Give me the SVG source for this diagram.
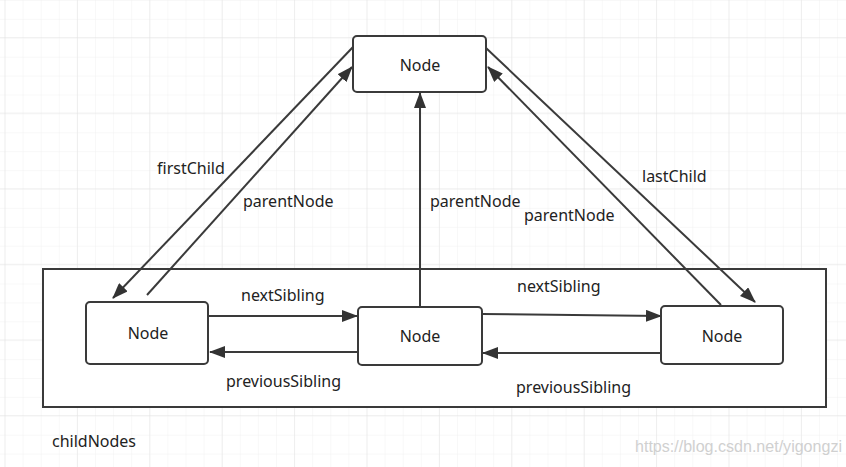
<svg xmlns="http://www.w3.org/2000/svg" width="846" height="467" viewBox="0 0 846 467">
<style>
.node rect{fill:#fff;stroke:#3a3a3a;stroke-width:2}
.t{font-family:"Noto Sans","Open Sans",sans-serif;font-size:16px;fill:#222}
.c{text-anchor:middle}
.e line{stroke:#3a3a3a;stroke-width:2;fill:none}
</style>
<defs>
<pattern id="gmin" width="18.1" height="18.9" patternUnits="userSpaceOnUse" x="4.5" y="0">
<path d="M0 0V18.9M0 0H18.1" fill="none" stroke="#f1f1f1" stroke-width="1"/>
</pattern>
<pattern id="gmaj" width="72.4" height="75.6" patternUnits="userSpaceOnUse" x="4.5" y="37">
<path d="M0 0V75.6M0 0H72.4" fill="none" stroke="#e3e3e3" stroke-width="1"/>
</pattern>
<marker id="ah" markerWidth="16" markerHeight="12" refX="15" refY="6" orient="auto" markerUnits="userSpaceOnUse">
<path d="M0 0L16 6L0 12Z" fill="#333"/>
</marker>
</defs>
<rect width="846" height="467" fill="#fff"/>
<rect width="846" height="467" fill="url(#gmin)"/>
<rect width="846" height="467" fill="url(#gmaj)"/>
<g id="container">
<rect x="43" y="269" width="783" height="138" fill="#fff" stroke="#3a3a3a" stroke-width="2"/>
<text class="t" x="52" y="447">childNodes</text>
</g>
<g id="edges" class="e">
<line x1="353" y1="47" x2="113" y2="298" marker-end="url(#ah)"/>
<line x1="147" y1="295" x2="352" y2="67" marker-end="url(#ah)"/>
<line x1="420" y1="307" x2="420" y2="93" marker-end="url(#ah)"/>
<line x1="486" y1="48" x2="755" y2="302" marker-end="url(#ah)"/>
<line x1="721" y1="305" x2="488" y2="67" marker-end="url(#ah)"/>
<line x1="208" y1="316" x2="357" y2="316" marker-end="url(#ah)"/>
<line x1="358" y1="352" x2="210" y2="352" marker-end="url(#ah)"/>
<line x1="482" y1="314" x2="661" y2="316" marker-end="url(#ah)"/>
<line x1="661" y1="353" x2="483" y2="353" marker-end="url(#ah)"/>
</g>
<g id="labels">
<text class="t" x="157" y="174">firstChild</text>
<text class="t" x="243" y="207">parentNode</text>
<text class="t" x="430" y="207">parentNode</text>
<text class="t" x="642" y="182">lastChild</text>
<text class="t" x="524" y="221">parentNode</text>
<text class="t" x="241" y="301">nextSibling</text>
<text class="t" x="226" y="387">previousSibling</text>
<text class="t" x="517" y="292">nextSibling</text>
<text class="t" x="516" y="393">previousSibling</text>
</g>
<g id="node-top" class="node">
<rect x="353" y="36" width="133" height="56" rx="4"/>
<text class="t c" x="420" y="71">Node</text>
</g>
<g id="node-left" class="node">
<rect x="86" y="302" width="122" height="62" rx="4"/>
<text class="t c" x="148" y="339">Node</text>
</g>
<g id="node-middle" class="node">
<rect x="358" y="307" width="124" height="58" rx="4"/>
<text class="t c" x="420" y="342">Node</text>
</g>
<g id="node-right" class="node">
<rect x="661" y="306" width="122" height="58" rx="4"/>
<text class="t c" x="722" y="342">Node</text>
</g>
<text x="635" y="452" font-family="'Liberation Sans Narrow','Liberation Sans',sans-serif" font-size="16" fill="#d0d0d0" textLength="207" lengthAdjust="spacingAndGlyphs">https://blog.csdn.net/yigongzi</text>
</svg>
